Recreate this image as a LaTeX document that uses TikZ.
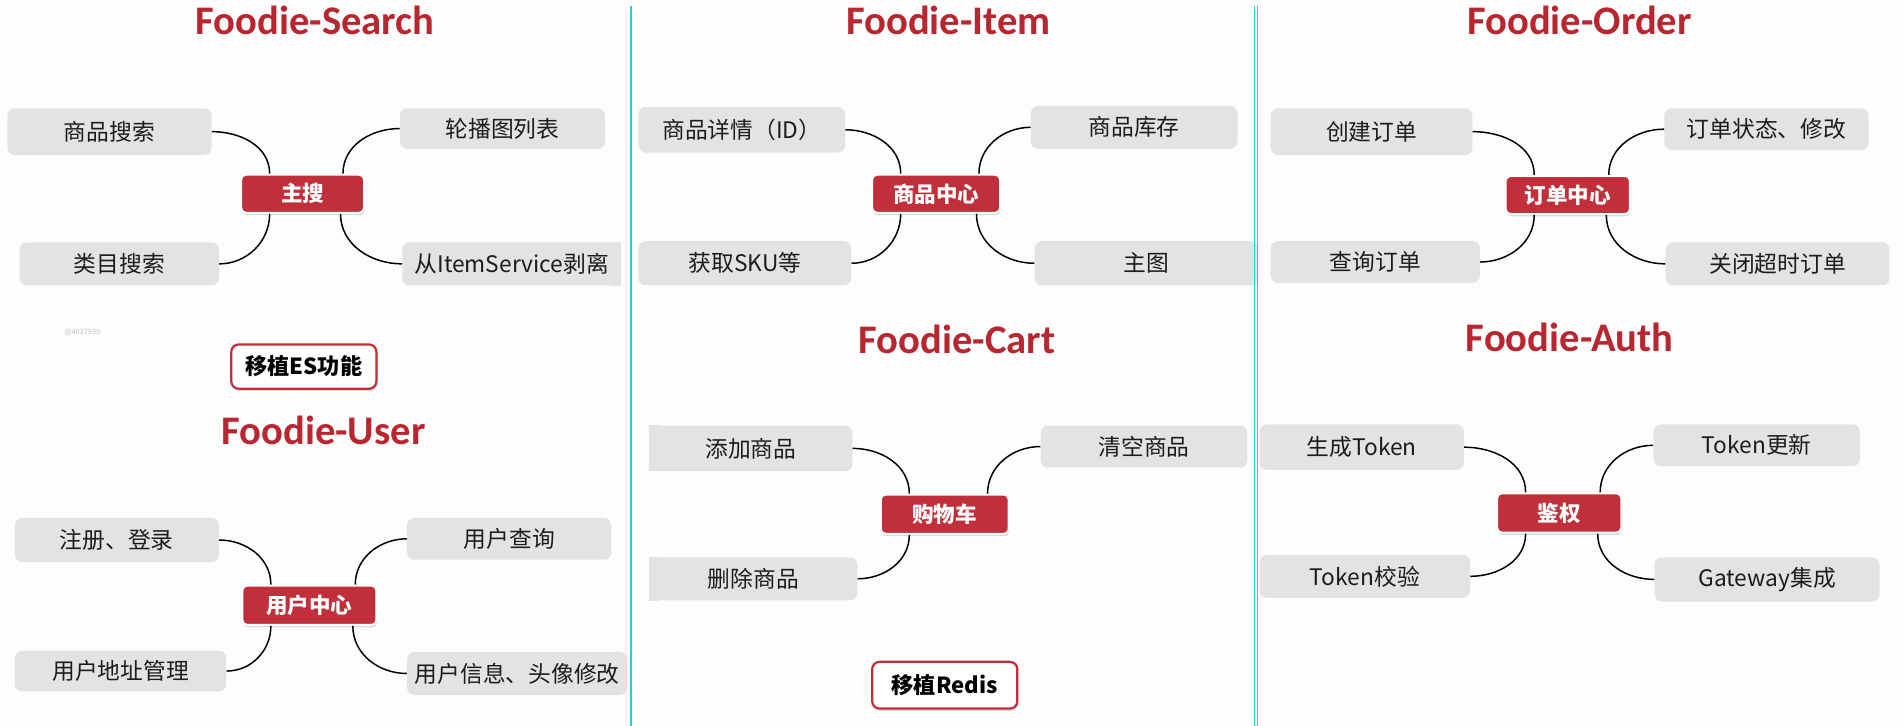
\documentclass[tikz,border=0pt]{standalone}
\usepackage{fontspec}
\setmainfont{Carlito}
\newfontfamily\cjk{Noto Sans CJK SC}
\usetikzlibrary{shadows}
\definecolor{titlered}{HTML}{B8262F}
\definecolor{nodered}{HTML}{C1303A}
\definecolor{boxgray}{HTML}{E3E3E3}
\definecolor{sepcyan}{HTML}{22D2D8}
\definecolor{bgcol}{HTML}{FDFDFD}
\definecolor{txtcol}{HTML}{1C1C1C}
\begin{document}
\begin{tikzpicture}[x=1pt,y=1pt,
 title/.style={font=\bfseries\fontsize{33}{36}\selectfont, text=titlered, anchor=base, inner sep=0pt},
 gbox/.style={fill=boxgray, rounded corners=6pt, text=txtcol, font=\cjk\fontsize{18.5}{20}\selectfont, inner sep=0pt, align=center},
 hub/.style={fill=nodered, draw=white, line width=1.6pt, rounded corners=4pt, text=white, font=\cjk\bfseries\fontsize{17.5}{19}\selectfont, inner sep=0pt, drop shadow={shadow xshift=0.6pt, shadow yshift=-1.8pt, opacity=0.3}},
 port/.style={fill=white, draw=nodered, line width=1.8pt, rounded corners=6pt, text=black, font=\cjk\bfseries\fontsize{18}{20}\selectfont, inner sep=0pt, drop shadow={shadow xshift=0.8pt, shadow yshift=-1.8pt, opacity=0.3}},
 link/.style={draw=black, line width=1.2pt},
 sepline/.style={draw=sepcyan, line width=1.8pt},
 septhin/.style={draw=sepcyan, line width=0.8pt}
]
\fill[bgcol] (0,0) rectangle (1547,-590);
\useasboundingbox (0,0) rectangle (1547,-590);

% ---------- Foodie-Search ----------
\node[title] (t1) at (256,-28) {Foodie-Search};
\node[hub, minimum width=100pt, minimum height=31pt] (c1) at (246,-157.5) {主搜};
\node[gbox, minimum width=166pt, minimum height=38pt] (s1) at (89,-107) {商品搜索};
\node[gbox, minimum width=167pt, minimum height=33pt] (s2) at (408.5,-104.5) {轮播图列表};
\node[gbox, minimum width=162pt, minimum height=35pt] (s3) at (97,-214.5) {类目搜索};
\node[gbox, minimum width=178pt, minimum height=35pt] (s4) at (416,-214.5) {从ItemService剥离};
\fill[boxgray] ([xshift=-8pt]s4.north east) rectangle (s4.south east);
\draw[link] (s1.east) to[out=0,in=90] ([xshift=24pt]c1.north west);
\draw[link] ([xshift=-18pt]c1.north east) to[out=90,in=180] (s2.west);
\draw[link] ([xshift=24pt]c1.south west) to[out=-90,in=0] (s3.east);
\draw[link] ([xshift=-20pt]c1.south east) to[out=-90,in=180] (s4.west);
\node[text=black!25, font=\cjk\fontsize{6}{7}\selectfont, inner sep=0pt] (wm) at (67,-270) {@4027939};
\node[port, minimum width=118pt, minimum height=36pt] (p1) at (247,-298) {移植ES功能};

% ---------- Foodie-User ----------
\node[title] (t2) at (263,-361) {Foodie-User};
\node[hub, minimum width=109pt, minimum height=32pt] (c2) at (251.5,-492) {用户中心};
\node[gbox, minimum width=166pt, minimum height=36pt] (u1) at (95,-439) {注册、登录};
\node[gbox, minimum width=166pt, minimum height=34pt] (u2) at (414,-438) {用户查询};
\node[gbox, minimum width=172pt, minimum height=33pt] (u3) at (98,-545.5) {用户地址管理};
\node[gbox, minimum width=179pt, minimum height=35pt] (u4) at (420.5,-547.5) {用户信息、头像修改};
\draw[link] (u1.east) to[out=0,in=90] ([xshift=24pt]c2.north west);
\draw[link] ([xshift=-18pt]c2.north east) to[out=90,in=180] (u2.west);
\draw[link] ([xshift=24pt]c2.south west) to[out=-90,in=0] (u3.east);
\draw[link] ([xshift=-20pt]c2.south east) to[out=-90,in=180] (u4.west);

% ---------- Foodie-Item ----------
\node[title] (t3) at (771,-28) {Foodie-Item};
\node[hub, minimum width=104pt, minimum height=31pt] (c3) at (761,-157.5) {商品中心};
\node[gbox, minimum width=168pt, minimum height=37pt] (i1) at (603,-105.5) {商品详情（ID）};
\node[gbox, minimum width=168pt, minimum height=35pt] (i2) at (922,-103.5) {商品库存};
\node[gbox, minimum width=173pt, minimum height=36pt] (i3) at (605.5,-214) {获取SKU等};
\node[gbox, minimum width=182pt, minimum height=36pt] (i4) at (932,-214) {主图};
\draw[link] (i1.east) to[out=0,in=90] ([xshift=24pt]c3.north west);
\draw[link] ([xshift=-18pt]c3.north east) to[out=90,in=180] (i2.west);
\draw[link] ([xshift=24pt]c3.south west) to[out=-90,in=0] (i3.east);
\draw[link] ([xshift=-20pt]c3.south east) to[out=-90,in=180] (i4.west);

% ---------- Foodie-Cart ----------
\node[title] (t4) at (778,-287) {Foodie-Cart};
\node[hub, minimum width=104pt, minimum height=32pt] (c4) at (768,-418) {购物车};
\node[gbox, minimum width=165pt, minimum height=37pt] (k1) at (610.5,-364.5) {添加商品};
\fill[boxgray] (k1.north west) rectangle ([xshift=8pt]k1.south west);
\node[gbox, minimum width=168pt, minimum height=34pt] (k2) at (930,-363) {清空商品};
\node[gbox, minimum width=169pt, minimum height=35pt] (k3) at (612.5,-470.5) {删除商品};
\fill[boxgray] (k3.north west) rectangle ([xshift=8pt]k3.south west);
\draw[link] (k1.east) to[out=0,in=90] ([xshift=24pt]c4.north west);
\draw[link] ([xshift=-18pt]c4.north east) to[out=90,in=180] (k2.west);
\draw[link] ([xshift=24pt]c4.south west) to[out=-90,in=0] (k3.east);
\node[port, minimum width=118pt, minimum height=38pt] (p2) at (768,-557) {移植Redis};

% ---------- Foodie-Order ----------
\node[title] (t5) at (1284,-28) {Foodie-Order};
\node[hub, minimum width=101pt, minimum height=31pt] (c5) at (1274.5,-158.5) {订单中心};
\node[gbox, minimum width=164pt, minimum height=38pt] (o1) at (1115,-107) {创建订单};
\node[gbox, minimum width=166pt, minimum height=34pt] (o2) at (1436,-105) {订单状态、修改};
\node[gbox, minimum width=170pt, minimum height=34pt] (o3) at (1118,-213) {查询订单};
\node[gbox, minimum width=182pt, minimum height=35pt] (o4) at (1445,-214.5) {关闭超时订单};
\draw[link] (o1.east) to[out=0,in=90] ([xshift=24pt]c5.north west);
\draw[link] ([xshift=-18pt]c5.north east) to[out=90,in=180] (o2.west);
\draw[link] ([xshift=24pt]c5.south west) to[out=-90,in=0] (o3.east);
\draw[link] ([xshift=-20pt]c5.south east) to[out=-90,in=180] (o4.west);

% ---------- Foodie-Auth ----------
\node[title] (t6) at (1276,-286) {Foodie-Auth};
\node[hub, minimum width=101pt, minimum height=32pt] (c6) at (1267.5,-417) {鉴权};
\node[gbox, minimum width=166pt, minimum height=37pt] (a1) at (1107,-363.5) {生成Token};
\node[gbox, minimum width=168pt, minimum height=34pt] (a2) at (1428,-362) {Token更新};
\node[gbox, minimum width=171pt, minimum height=35pt] (a3) at (1109.5,-468.5) {Token校验};
\node[gbox, minimum width=183pt, minimum height=36pt] (a4) at (1436.5,-471) {Gateway集成};
\draw[link] (a1.east) to[out=0,in=90] ([xshift=24pt]c6.north west);
\draw[link] ([xshift=-18pt]c6.north east) to[out=90,in=180] (a2.west);
\draw[link] ([xshift=24pt]c6.south west) to[out=-90,in=0] (a3.east);
\draw[link] ([xshift=-20pt]c6.south east) to[out=-90,in=180] (a4.west);

% ---------- separators ----------
\draw[sepline] (513,-5) -- (513,-590);
\draw[septhin] (1019.5,-5) -- (1019.5,-590);
\draw[septhin] (1022.5,-5) -- (1022.5,-590);
\end{tikzpicture}
\end{document}
